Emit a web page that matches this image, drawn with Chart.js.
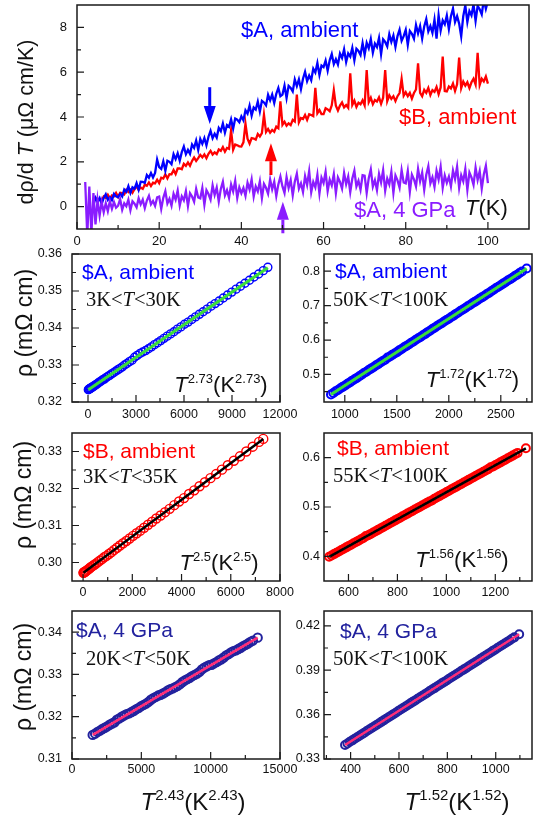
<!DOCTYPE html>
<html>
<head>
<meta charset="utf-8">
<script src="https://cdn.jsdelivr.net/npm/chart.js@4.4.1/dist/chart.umd.min.js"></script>
<style>
  html, body { margin: 0; padding: 0; background: #fff; }
  #wrap { position: relative; width: 540px; height: 815px; overflow: hidden; }
  #wrap canvas { position: absolute; left: 0; top: 0; }
</style>
</head>
<body>
<div id="wrap">
  <canvas id="cTop" width="540" height="815"></canvas>
  <canvas id="cA1" width="540" height="815"></canvas>
  <canvas id="cA2" width="540" height="815"></canvas>
  <canvas id="cB1" width="540" height="815"></canvas>
  <canvas id="cB2" width="540" height="815"></canvas>
  <canvas id="cC1" width="540" height="815"></canvas>
  <canvas id="cC2" width="540" height="815"></canvas>
</div>
<script>
// ---- top panel: d(rho)/dT versus T ----
const tempK = [
  2,2.5,3,3.5,4,4.5,5,5.5,6,6.5,7,7.5,8,8.5,9,9.5,
  10,10.5,11,11.5,12,12.5,13,13.5,14,14.5,15,15.5,16,16.5,17,17.5,18,18.5,19,19.5,
  20,20.5,21,21.5,22,22.5,23,23.5,24,24.5,25,25.5,26,26.5,27,27.5,28,28.5,29,29.5,
  30,30.5,31,31.5,32,32.5,33,33.5,34,34.5,35,35.5,36,36.5,37,37.5,38,38.5,39,39.5,
  40,40.5,41,41.5,42,42.5,43,43.5,44,44.5,45,45.5,46,46.5,47,47.5,48,48.5,49,49.5,
  50,50.5,51,51.5,52,52.5,53,53.5,54,54.5,55,55.5,56,56.5,57,57.5,58,58.5,59,59.5,
  60,60.5,61,61.5,62,62.5,63,63.5,64,64.5,65,65.5,66,66.5,67,67.5,68,68.5,69,69.5,
  70,70.5,71,71.5,72,72.5,73,73.5,74,74.5,75,75.5,76,76.5,77,77.5,78,78.5,79,79.5,
  80,80.5,81,81.5,82,82.5,83,83.5,84,84.5,85,85.5,86,86.5,87,87.5,88,88.5,89,89.5,
  90,90.5,91,91.5,92,92.5,93,93.5,94,94.5,95,95.5,96,96.5,97,97.5,98,98.5,99,99.5,100
];
const dRdT_A_ambient = [
  null,null,null,null,0.08,0.39,0.21,0.38,0.12,0.39,0.55,0.3,0.42,0.29,0.57,0.46,
  0.42,0.57,0.45,0.76,0.66,0.91,0.61,0.86,0.8,1.05,0.75,1.11,1.1,1.06,1.41,1.29,1.5,1.3,1.5,2.1,
  1.76,1.68,2.02,1.6,2.05,2.0,1.89,2.34,2.12,2.38,2.05,2.43,2.68,2.34,2.53,2.35,2.77,2.62,2.95,2.53,
  3.02,2.8,3.06,2.73,3.12,3.38,3.05,3.25,3.08,3.51,3.37,3.71,3.3,3.64,3.56,3.9,3.48,3.93,3.88,3.77,
  4.03,3.85,4.3,4.15,4.51,4.06,4.42,4.33,4.69,4.24,4.72,4.65,4.52,4.99,4.74,5.0,4.63,5.04,5.3,4.93,
  5.0,5.4,4.85,5.39,5.3,5.14,5.68,5.38,5.68,5.24,5.71,6.02,5.6,5.85,5.64,6.16,5.99,6.41,5.88,6.3,
  6.23,6.52,6.07,6.53,6.81,6.36,6.58,6.34,6.83,6.63,7.02,6.46,6.84,6.7,7.09,6.53,7.05,6.95,6.77,7.3,
  6.78,7.31,7.07,7.48,6.87,7.28,7.12,7.53,6.8,7.47,7.35,7.15,7.7,7.35,7.64,7.13,7.61,7.9,7.4,7.61,
  7.89,7.22,7.84,7.71,7.49,8.11,7.73,8.06,7.5,8.04,8.37,7.82,8.06,7.76,8.34,7.5,8.54,7.86,8.31,8.14,
  8.53,7.93,8.5,8.84,8.24,8.5,8.17,7.6,8.5,8.98,8.24,8.73,8.54,9.02,8.29,8.96,8.81,8.58,9.24,8.83,9.18
];
const dRdT_B_ambient = [
  null,null,null,null,0.29,0.4,0.25,0.34,0.27,0.45,0.39,0.53,0.35,0.5,0.46,0.61,
  0.43,0.62,0.6,0.55,0.75,0.65,0.76,0.62,0.79,0.9,0.75,0.85,0.79,0.98,0.93,1.08,0.92,1.07,1.04,1.2,
  1.05,1.29,1.25,1.44,1.26,1.45,1.44,1.63,1.45,1.7,1.7,1.67,1.91,1.82,1.97,1.82,2.04,2.19,2.04,2.16,
  2.31,2.2,2.33,2.16,2.36,2.49,2.32,2.42,2.34,2.55,2.49,2.66,2.45,2.62,2.58,3.4,2.54,2.77,2.74,2.69,
  2.68,2.87,3.7,3.03,2.81,3.06,3.04,2.99,3.24,3.13,3.28,4.1,3.33,3.47,3.3,3.42,3.34,3.57,3.5,4.7,
  3.65,3.79,3.61,3.72,3.64,3.87,3.8,5.0,3.76,3.95,3.91,4.09,3.87,4.12,4.09,4.04,5.3,4.17,4.31,4.13,
  4.13,4.39,4.34,4.26,4.52,5.2,4.5,4.29,4.51,4.65,4.43,4.53,4.41,5.95,4.54,4.73,4.45,4.64,4.57,4.75,
  4.52,6.1,4.66,4.86,4.57,4.76,4.69,4.88,4.59,4.86,6.1,4.71,4.97,4.81,4.93,4.71,4.93,5.07,5.7,4.95,
  5.11,4.93,5.08,4.82,5.07,5.23,6.4,5.08,4.93,5.21,5.08,5.3,4.98,5.2,5.12,5.34,5.02,5.32,6.7,5.16,
  5.14,5.36,5.27,5.49,5.16,5.46,6.65,5.29,5.58,5.4,5.55,5.29,5.55,5.71,5.45,6.86,5.43,5.71,5.59,5.81,5.49
];
const dRdT_A_4GPa = [
  1.1,-1.3,0.9,-1.2,0.6,-0.8,0.3,-0.4,0.2,-0.25,0.15,-0.2,0.25,-0.1,0.2,-0.05,
  0.04,0.33,-0.14,0.15,0.02,0.31,-0.16,0.24,0.13,-0.03,0.37,0.1,0.31,-0.07,0.27,0.48,0.1,0.25,0.03,0.41,
  0.45,-0.1,0.39,0.69,0.14,0.35,0.04,0.57,0.31,0.72,0.05,0.46,0.28,0.69,0.02,0.6,0.45,0.22,0.79,0.41,
  0.37,0.83,0.08,0.73,0.56,0.31,0.95,0.52,0.85,0.23,0.79,1.11,0.5,0.73,0.39,0.99,0.68,1.15,0.39,0.86,
  0.6,0.83,0.48,1.07,0.76,1.21,0.45,0.9,0.68,1.13,0.38,1.01,0.84,0.58,1.21,0.77,1.11,0.47,0.99,1.34,
  0.9,0.61,1.32,0.83,1.19,0.5,1.11,1.47,0.8,1.04,0.65,1.36,0.97,1.58,0.64,1.1,0.86,1.42,0.58,1.29,
  1.05,1.55,0.7,1.2,0.95,1.45,0.6,1.3,1.1,0.8,1.5,1.0,1.35,0.65,1.25,1.6,0.9,1.15,0.75,1.4,
  1.38,0.61,1.27,1.66,0.89,1.18,0.74,1.46,1.08,1.63,0.71,1.25,0.99,1.55,0.61,1.39,1.17,0.85,1.63,1.08,
  1.04,1.59,0.66,1.43,1.22,0.9,1.68,1.13,1.52,0.75,1.42,1.8,1.04,1.31,0.88,1.6,1.21,1.77,0.84,1.39,
  1.06,1.34,0.9,1.61,1.23,1.78,0.84,1.4,1.13,1.68,0.75,1.52,1.3,0.97,1.74,1.19,1.58,0.8,1.44,1.82,1.05
];
// arrows marking the kinks (A ambient, B ambient, A 4 GPa)
const arrowT    = [32.3, 47.2, 50.1];
const arrowTail = [5.33, 1.41, -1.19];
const arrowTip  = [3.69, 2.83, 0.22];

const topXTicks = [0, 20, 40, 60, 80, 100];
const topXMinor = [10, 30, 50, 70, 90];
const topYTicks = [0, 2, 4, 6, 8];
const topYMinor = [1, 3, 5, 7];

// ---- A, ambient: rho vs T^2.73 (3-30 K) and T^1.72 (50-100 K) ----
const aLowX = [
  20,45,75,110,150,195,245,300,360,425,
  495,570,650,735,825,920,1020,1125,1235,1350,
  1470,1595,1725,1860,2000,2140,2285,2435,2590,2750,
  2910,3075,3245,3420,3600,3780,3965,4155,4350,4545,
  4745,4950,5160,5370,5585,5805,6030,6255,6485,6720,
  6955,7195,7440,7690,7940,8195,8455,8720,8985,9255,
  9530,9810,10090,10375,10665,10955,11240];
const aLowRho = [
  0.3233,0.3234,0.3235,0.3236,0.3237,0.3238,0.3240,0.3241,0.3243,0.3245,
  0.3247,0.3249,0.3252,0.3254,0.3257,0.3260,0.3262,0.3266,0.3269,0.3272,
  0.3276,0.3279,0.3283,0.3287,0.3291,0.3295,0.3300,0.3304,0.3309,0.3313,
  0.3321,0.3326,0.3331,0.3335,0.3339,0.3344,0.3349,0.3355,0.3360,0.3366,
  0.3372,0.3378,0.3384,0.3390,0.3397,0.3403,0.3410,0.3416,0.3423,0.3430,
  0.3437,0.3444,0.3451,0.3459,0.3466,0.3473,0.3481,0.3489,0.3497,0.3505,
  0.3513,0.3521,0.3529,0.3538,0.3546,0.3555,0.3564];
const aLowFitX = [20, 11240];
const aLowFitRho = [0.3233, 0.3563];

const aHighX = [
  867,890,912,935,958,980,1003,1026,1048,1071,
  1094,1116,1139,1162,1184,1207,1230,1252,1275,1298,
  1320,1343,1366,1388,1411,1434,1456,1479,1502,1524,
  1547,1570,1592,1615,1638,1660,1683,1706,1728,1751,
  1774,1796,1819,1842,1864,1887,1910,1932,1955,1978,
  2000,2023,2046,2068,2091,2114,2136,2159,2182,2204,
  2227,2250,2272,2295,2318,2340,2363,2386,2408,2431,
  2454,2476,2499,2522,2544,2567,2590,2612,2635,2658,
  2680,2703,2749];
const aHighRho = [
  0.442,0.446,0.451,0.455,0.460,0.464,0.468,0.473,0.477,0.482,
  0.486,0.490,0.495,0.499,0.504,0.508,0.513,0.517,0.521,0.526,
  0.530,0.535,0.539,0.543,0.549,0.552,0.557,0.561,0.565,0.570,
  0.574,0.579,0.583,0.587,0.592,0.596,0.601,0.605,0.609,0.614,
  0.618,0.623,0.627,0.632,0.636,0.641,0.645,0.649,0.654,0.658,
  0.662,0.667,0.671,0.676,0.680,0.685,0.689,0.693,0.698,0.702,
  0.707,0.711,0.715,0.720,0.724,0.728,0.733,0.737,0.742,0.746,
  0.751,0.755,0.759,0.764,0.768,0.773,0.777,0.781,0.786,0.790,
  0.795,0.799,0.808];
const aHighFitX = [867, 2749];
const aHighFitRho = [0.442, 0.808];

// ---- B, ambient: rho vs T^2.5 (3-35 K) and T^1.56 (55-100 K) ----
const bLowX = [
  15,30,50,75,105,140,180,225,275,330,
  390,455,525,600,680,765,855,950,1050,1155,
  1265,1380,1500,1625,1755,1890,2030,2175,2325,2480,
  2640,2805,2975,3150,3330,3515,3705,3900,4100,4305,
  4515,4730,4950,5175,5405,5640,5880,6125,6375,6630,
  6890,7150,7320];
const bLowRho = [
  0.2972,0.2973,0.2974,0.2975,0.2976,0.2978,0.2980,0.2982,0.2985,0.2988,
  0.2991,0.2994,0.2997,0.3001,0.3005,0.3009,0.3014,0.3018,0.3023,0.3028,
  0.3034,0.3040,0.3046,0.3052,0.3058,0.3065,0.3072,0.3079,0.3086,0.3094,
  0.3102,0.3110,0.3119,0.3127,0.3136,0.3145,0.3155,0.3165,0.3174,0.3185,
  0.3195,0.3206,0.3217,0.3228,0.3239,0.3251,0.3263,0.3275,0.3287,0.3300,
  0.3313,0.3326,0.3334];
const bLowFitX = [15, 7320];
const bLowFitRho = [0.2972, 0.3334];

const bHighX = [
  521,531,541,551,561,571,581,591,601,611,
  621,631,641,651,661,671,681,691,701,711,
  721,731,741,751,761,771,781,791,801,811,
  821,831,841,851,861,871,881,891,901,911,
  921,931,941,951,961,971,981,991,1001,1011,
  1021,1031,1041,1051,1061,1071,1081,1091,1101,1111,
  1121,1131,1141,1151,1161,1171,1181,1191,1201,1211,
  1221,1231,1241,1251,1261,1271,1281,1291,1325];
const bHighRho = [
  0.3990,0.4017,0.4045,0.4072,0.4099,0.4127,0.4154,0.4182,0.4209,0.4236,
  0.4264,0.4291,0.4318,0.4346,0.4373,0.4410,0.4428,0.4455,0.4482,0.4510,
  0.4537,0.4565,0.4592,0.4619,0.4647,0.4674,0.4701,0.4729,0.4756,0.4783,
  0.4811,0.4838,0.4866,0.4893,0.4920,0.4948,0.4975,0.5002,0.5030,0.5057,
  0.5084,0.5112,0.5130,0.5166,0.5194,0.5221,0.5249,0.5276,0.5303,0.5331,
  0.5358,0.5385,0.5413,0.5440,0.5467,0.5495,0.5522,0.5550,0.5577,0.5604,
  0.5632,0.5659,0.5686,0.5714,0.5741,0.5768,0.5805,0.5823,0.5850,0.5878,
  0.5905,0.5933,0.5960,0.5987,0.6015,0.6042,0.6069,0.6097,0.6190];
const bHighFitX = [521, 1325];
const bHighFitRho = [0.399, 0.619];

// ---- A, 4 GPa: rho vs T^2.43 (20-50 K) and T^1.52 (50-100 K) ----
const cLowX = [
  1493,1668,1843,2018,2193,2368,2543,2718,2893,3068,
  3243,3418,3593,3768,3943,4118,4293,4468,4643,4818,
  4993,5168,5343,5518,5693,5868,6043,6218,6393,6568,
  6743,6918,7093,7268,7443,7618,7793,7968,8143,8318,
  8493,8668,8843,9018,9193,9368,9543,9718,9893,10068,
  10243,10418,10593,10768,10943,11118,11293,11468,11643,11818,
  11993,12168,12343,12518,12693,12868,13043,13390];
const cLowRho = [
  0.3157,0.3160,0.3164,0.3167,0.3171,0.3174,0.3177,0.3181,0.3184,0.3187,
  0.3193,0.3196,0.3200,0.3203,0.3206,0.3208,0.3211,0.3214,0.3218,0.3221,
  0.3225,0.3228,0.3231,0.3235,0.3240,0.3244,0.3247,0.3250,0.3252,0.3255,
  0.3258,0.3262,0.3265,0.3267,0.3270,0.3273,0.3277,0.3282,0.3286,0.3289,
  0.3292,0.3296,0.3299,0.3302,0.3306,0.3312,0.3316,0.3319,0.3322,0.3323,
  0.3326,0.3329,0.3333,0.3336,0.3340,0.3345,0.3348,0.3352,0.3355,0.3357,
  0.3360,0.3363,0.3367,0.3370,0.3373,0.3377,0.3380,0.3387];
const cLowFitX = [1493, 13390];
const cLowFitRho = [0.3157, 0.3387];

const cHighX = [
  377,387,397,407,417,427,437,447,457,467,
  477,487,497,507,517,527,537,547,557,567,
  577,587,597,607,617,627,637,647,657,667,
  677,687,697,707,717,727,737,747,757,767,
  777,787,797,807,817,827,837,847,857,867,
  877,887,897,907,917,927,937,947,957,967,
  977,987,997,1007,1017,1027,1037,1047,1057,1067,
  1077,1097];
const cHighRho = [
  0.3395,0.3405,0.3416,0.3426,0.3437,0.3447,0.3457,0.3468,0.3478,0.3489,
  0.3499,0.3509,0.3520,0.3530,0.3540,0.3551,0.3561,0.3572,0.3582,0.3592,
  0.3603,0.3613,0.3624,0.3634,0.3644,0.3655,0.3665,0.3676,0.3686,0.3696,
  0.3707,0.3717,0.3727,0.3738,0.3748,0.3759,0.3769,0.3779,0.3790,0.3800,
  0.3811,0.3821,0.3831,0.3842,0.3852,0.3863,0.3873,0.3883,0.3894,0.3904,
  0.3914,0.3925,0.3935,0.3946,0.3956,0.3966,0.3977,0.3987,0.3998,0.4008,
  0.4018,0.4029,0.4039,0.4050,0.4060,0.4070,0.4081,0.4091,0.4101,0.4112,
  0.4122,0.4143];
const cHighFitX = [377, 1097];
const cHighFitRho = [0.3395, 0.4143];

// tick values of the six small panels
const aLowXTicks = [0, 3000, 6000, 9000, 12000];
const aLowXMinor = [1500, 4500, 7500, 10500];
const aLowYTicks = [0.32, 0.33, 0.34, 0.35, 0.36];
const aLowYMinor = [0.325, 0.335, 0.345, 0.355];
const aHighXTicks = [1000, 1500, 2000, 2500];
const aHighXMinor = [1250, 1750, 2250, 2750];
const aHighYTicks = [0.5, 0.6, 0.7, 0.8];
const aHighYMinor = [0.45, 0.55, 0.65, 0.75];
const bLowXTicks = [0, 2000, 4000, 6000, 8000];
const bLowXMinor = [1000, 3000, 5000, 7000];
const bLowYTicks = [0.30, 0.31, 0.32, 0.33];
const bLowYMinor = [0.305, 0.315, 0.325];
const bHighXTicks = [600, 800, 1000, 1200];
const bHighXMinor = [700, 900, 1100, 1300];
const bHighYTicks = [0.4, 0.5, 0.6];
const bHighYMinor = [0.45, 0.55];
const cLowXTicks = [0, 5000, 10000, 15000];
const cLowXMinor = [2500, 7500, 12500];
const cLowYTicks = [0.31, 0.32, 0.33, 0.34];
const cLowYMinor = [0.315, 0.325, 0.335];
const cHighXTicks = [400, 600, 800, 1000];
const cHighXMinor = [300, 500, 700, 900, 1100];
const cHighYTicks = [0.33, 0.36, 0.39, 0.42];
const cHighYMinor = [0.345, 0.375, 0.405];

const fmt2 = v => v.toFixed(2);
const fmt1 = v => v.toFixed(1);
const fmt0 = v => String(v);

// ---------- drawing helpers ----------
const SANS = '"Liberation Sans", Arial, sans-serif';
const SERIF = '"Liberation Serif", "Times New Roman", serif';
const sans = (s, it) => (it ? 'italic ' : '') + s + 'px ' + SANS;
const serif = (s, it) => (it ? 'italic ' : '') + s + 'px ' + SERIF;

function plain(text, size) { return [{ t: text, f: sans(size) }]; }
function tPower(exp, big, small, rise) {
  return [
    { t: 'T', f: sans(big, true) },
    { t: exp, f: sans(small), dy: -rise },
    { t: '(K', f: sans(big) },
    { t: exp, f: sans(small), dy: -rise },
    { t: ')', f: sans(big) }
  ];
}
function tRange(lo, hi) {
  return [
    { t: lo + 'K<', f: serif(20.5) },
    { t: 'T', f: serif(20.5, true) },
    { t: '<' + hi + 'K', f: serif(20.5) }
  ];
}
const rhoTitle = [{ t: 'ρ (mΩ cm)', f: sans(23) }];

function drawRich(ctx, parts, x, y, color, align, rotate) {
  ctx.save();
  ctx.fillStyle = color;
  ctx.textAlign = 'left';
  ctx.textBaseline = rotate ? 'middle' : 'alphabetic';
  let w = 0;
  parts.forEach(p => { ctx.font = p.f; w += ctx.measureText(p.t).width; });
  ctx.translate(x, y);
  if (rotate) ctx.rotate(-Math.PI / 2);
  let cx = align === 'center' ? -w / 2 : (align === 'right' ? -w : 0);
  parts.forEach(p => {
    ctx.font = p.f;
    ctx.fillText(p.t, cx, p.dy || 0);
    cx += ctx.measureText(p.t).width;
  });
  ctx.restore();
}

// per-canvas decoration: inward ticks, frame, in-panel texts, arrows
const decoCfg = {};

const decoPlugin = {
  id: 'deco',
  afterDatasetsDraw(chart) {
    const d = decoCfg[chart.canvas.id];
    if (!d) return;
    const { ctx, chartArea: a } = chart;
    const xs = chart.scales.x, ys = chart.scales.y;
    ctx.save();

    if (d.arrows) {
      d.arrows.forEach(ar => {
        const px = xs.getPixelForValue(ar.x);
        const p0 = ys.getPixelForValue(ar.from);
        const p1 = ys.getPixelForValue(ar.to);
        const dir = p1 > p0 ? 1 : -1;
        const head = 18, hw = 6;
        ctx.strokeStyle = ar.color;
        ctx.fillStyle = ar.color;
        ctx.lineWidth = 3;
        ctx.beginPath();
        ctx.moveTo(px, p0);
        ctx.lineTo(px, p1 - dir * head);
        ctx.stroke();
        ctx.beginPath();
        ctx.moveTo(px - hw, p1 - dir * head);
        ctx.lineTo(px + hw, p1 - dir * head);
        ctx.lineTo(px, p1);
        ctx.closePath();
        ctx.fill();
      });
    }

    ctx.strokeStyle = '#1a1a1a';
    ctx.lineWidth = 1.5;
    ctx.strokeRect(a.left, a.top, a.width, a.height);

    ctx.lineWidth = 1.2;
    ctx.beginPath();
    const xt = (vals, len) => vals.forEach(v => {
      const p = xs.getPixelForValue(v);
      ctx.moveTo(p, a.bottom); ctx.lineTo(p, a.bottom - len);
    });
    const yt = (vals, len) => vals.forEach(v => {
      const p = ys.getPixelForValue(v);
      ctx.moveTo(a.left, p); ctx.lineTo(a.left + len, p);
    });
    xt(d.xMajor, 7); xt(d.xMinor, 4);
    yt(d.yMajor, 7); yt(d.yMinor, 4);
    ctx.stroke();

    d.texts.forEach(t => drawRich(ctx, t.parts, a.left + t.dx, a.top + t.dy, t.color || '#111', t.align, t.rotate));
    ctx.restore();
  }
};

function axis(min, max, ticks, fmt, pos, size, font, pad) {
  return {
    type: 'linear', position: pos, min, max,
    grid: { display: false, drawTicks: false },
    border: { display: false },
    ticks: {
      autoSkip: false, maxRotation: 0, minRotation: 0,
      color: '#111', padding: pad,
      font: { family: 'Liberation Sans', size: font },
      callback: v => fmt(v)
    },
    afterBuildTicks: s => { s.ticks = ticks.map(v => ({ value: v })); },
    afterFit: s => {
      if (pos === 'bottom') s.height = size; else s.width = size;
      s.paddingTop = 0; s.paddingBottom = 0; s.paddingLeft = 0; s.paddingRight = 0;
    }
  };
}

function makeChart(id, box, xAx, yAx, datasets) {
  const yW = 40, xH = 30;
  return new Chart(document.getElementById(id), {
    type: 'scatter',
    data: { datasets },
    options: {
      responsive: false, animation: false, devicePixelRatio: 1, events: [],
      layout: { padding: { left: box[0] - yW, top: box[1], right: 540 - box[2], bottom: 815 - box[3] - xH } },
      plugins: { legend: { display: false }, tooltip: { enabled: false } },
      scales: { x: xAx, y: yAx }
    },
    plugins: [decoPlugin]
  });
}

const pts = (xs, ys) => xs.map((x, i) => ({ x, y: ys[i] }));
const lineSet = (xs, ys, color, w) => ({
  data: pts(xs, ys), showLine: true, borderColor: color, borderWidth: w,
  pointRadius: 0, fill: false, tension: 0
});
const circleSet = (xs, ys, color, r, w) => ({
  data: pts(xs, ys), showLine: false, pointStyle: 'circle', pointRadius: r,
  pointBorderColor: color, pointBorderWidth: w, pointBackgroundColor: 'rgba(255,255,255,0)'
});

const BLUE = '#0000ff', RED = '#ff0000', PURPLE = '#8a1cff';
const NAVY = '#22229e', GREEN = '#3bdc3b', PINK = '#ff2d78';

// ---------- top panel ----------
decoCfg.cTop = {
  xMajor: topXTicks, xMinor: topXMinor, yMajor: topYTicks, yMinor: topYMinor,
  arrows: arrowT.map((x, i) => ({ x, from: arrowTail[i], to: arrowTip[i], color: [BLUE, RED, PURPLE][i] })),
  texts: [
    { parts: plain('$A, ambient', 22), dx: 164, dy: 32, color: BLUE },
    { parts: plain('$B, ambient', 22), dx: 322, dy: 119, color: RED },
    { parts: plain('$A, 4 GPa', 22), dx: 277, dy: 212, color: PURPLE },
    { parts: [{ t: 'T', f: sans(22, true) }, { t: '(K)', f: sans(22) }], dx: 388, dy: 210, color: '#111' },
    { parts: [{ t: 'dρ/d ', f: sans(21.5) }, { t: 'T', f: sans(21.5, true) }, { t: ' (μΩ cm/K)', f: sans(21.5) }],
      dx: -50.3, dy: 117, rotate: true, align: 'center', color: '#111' }
  ]
};
makeChart('cTop', [77, 5, 529, 229],
  axis(0, 110, topXTicks, fmt0, 'bottom', 30, 13, 5),
  axis(-1, 9, topYTicks, fmt0, 'left', 40, 13, 10),
  [
    lineSet(tempK, dRdT_A_4GPa, PURPLE, 2.3),
    lineSet(tempK, dRdT_A_ambient, BLUE, 2.3),
    lineSet(tempK, dRdT_B_ambient, RED, 2.3)
  ]);

// ---------- row 1: A ambient ----------
decoCfg.cA1 = {
  xMajor: aLowXTicks, xMinor: aLowXMinor, yMajor: aLowYTicks, yMinor: aLowYMinor,
  texts: [
    { parts: plain('$A, ambient', 21), dx: 10, dy: 25.3, color: BLUE },
    { parts: tRange(3, 30), dx: 14, dy: 52 },
    { parts: tPower('2.73', 22, 13, 9), dx: 149, dy: 138, align: 'center' },
    { parts: rhoTitle, dx: -46.7, dy: 69, rotate: true, align: 'center' }
  ]
};
makeChart('cA1', [72, 254, 280, 402],
  axis(-1000, 12000, aLowXTicks, fmt0, 'bottom', 30, 12.5, 5),
  axis(0.32, 0.36, aLowYTicks, fmt2, 'left', 40, 12.5, 10),
  [lineSet(aLowFitX, aLowFitRho, GREEN, 3), circleSet(aLowX, aLowRho, BLUE, 4, 1.4)]);

decoCfg.cA2 = {
  xMajor: aHighXTicks, xMinor: aHighXMinor, yMajor: aHighYTicks, yMinor: aHighYMinor,
  texts: [
    { parts: plain('$A, ambient', 21), dx: 11, dy: 24.3, color: BLUE },
    { parts: tRange(50, 100), dx: 9, dy: 52 },
    { parts: tPower('1.72', 22, 13, 9), dx: 148.5, dy: 132.7, align: 'center' }
  ]
};
makeChart('cA2', [324, 254, 532, 402],
  axis(800, 2800, aHighXTicks, fmt0, 'bottom', 30, 12.5, 5),
  axis(0.42, 0.85, aHighYTicks, fmt1, 'left', 40, 12.5, 4),
  [lineSet(aHighFitX, aHighFitRho, GREEN, 3), circleSet(aHighX, aHighRho, BLUE, 4, 2)]);

// ---------- row 2: B ambient ----------
decoCfg.cB1 = {
  xMajor: bLowXTicks, xMinor: bLowXMinor, yMajor: bLowYTicks, yMinor: bLowYMinor,
  texts: [
    { parts: plain('$B, ambient', 21), dx: 11, dy: 25.3, color: RED },
    { parts: tRange(3, 35), dx: 11, dy: 49.7 },
    { parts: tPower('2.5', 22, 13, 9), dx: 147, dy: 137, align: 'center' },
    { parts: rhoTitle, dx: -47, dy: 62, rotate: true, align: 'center' }
  ]
};
makeChart('cB1', [72, 433, 280, 581],
  axis(-450, 8000, bLowXTicks, fmt0, 'bottom', 30, 12.5, 4),
  axis(0.295, 0.335, bLowYTicks, fmt2, 'left', 40, 12.5, 10),
  [lineSet(bLowFitX, bLowFitRho, '#000', 2.5), circleSet(bLowX, bLowRho, RED, 4.5, 1.4)]);

decoCfg.cB2 = {
  xMajor: bHighXTicks, xMinor: bHighXMinor, yMajor: bHighYTicks, yMinor: bHighYMinor,
  texts: [
    { parts: plain('$B, ambient', 21), dx: 13, dy: 22, color: RED },
    { parts: tRange(55, 100), dx: 9, dy: 48.7 },
    { parts: tPower('1.56', 22, 13, 9), dx: 138, dy: 133.7, align: 'center' }
  ]
};
makeChart('cB2', [324, 433, 532, 581],
  axis(500, 1350, bHighXTicks, fmt0, 'bottom', 30, 12.5, 4),
  axis(0.35, 0.65, bHighYTicks, fmt1, 'left', 40, 12.5, 4),
  [lineSet(bHighFitX, bHighFitRho, '#000', 2.5), circleSet(bHighX, bHighRho, RED, 4, 2)]);

// ---------- row 3: A at 4 GPa ----------
decoCfg.cC1 = {
  xMajor: cLowXTicks, xMinor: cLowXMinor, yMajor: cLowYTicks, yMinor: cLowYMinor,
  texts: [
    { parts: plain('$A, 4 GPa', 21), dx: 4, dy: 26.3, color: NAVY },
    { parts: tRange(20, 50), dx: 14, dy: 54 },
    { parts: rhoTitle, dx: -47, dy: 66, rotate: true, align: 'center' },
    { parts: tPower('2.43', 24, 15, 10), dx: 121, dy: 199, align: 'center' }
  ]
};
makeChart('cC1', [72, 611, 280, 759],
  axis(0, 15000, cLowXTicks, fmt0, 'bottom', 30, 12.5, 3),
  axis(0.31, 0.345, cLowYTicks, fmt2, 'left', 40, 12.5, 10),
  [lineSet(cLowFitX, cLowFitRho, PINK, 2.5), circleSet(cLowX, cLowRho, NAVY, 4.2, 2)]);

decoCfg.cC2 = {
  xMajor: cHighXTicks, xMinor: cHighXMinor, yMajor: cHighYTicks, yMinor: cHighYMinor,
  texts: [
    { parts: plain('$A, 4 GPa', 21), dx: 16, dy: 27.3, color: NAVY },
    { parts: tRange(50, 100), dx: 9, dy: 54 },
    { parts: tPower('1.52', 24, 15, 10), dx: 133, dy: 199, align: 'center' }
  ]
};
makeChart('cC2', [324, 611, 532, 759],
  axis(290, 1150, cHighXTicks, fmt0, 'bottom', 30, 12.5, 3),
  axis(0.33, 0.43, cHighYTicks, fmt2, 'left', 40, 12.5, 4),
  [lineSet(cHighFitX, cHighFitRho, PINK, 2.5), circleSet(cHighX, cHighRho, NAVY, 4, 2)]);
</script>
</body>
</html>
